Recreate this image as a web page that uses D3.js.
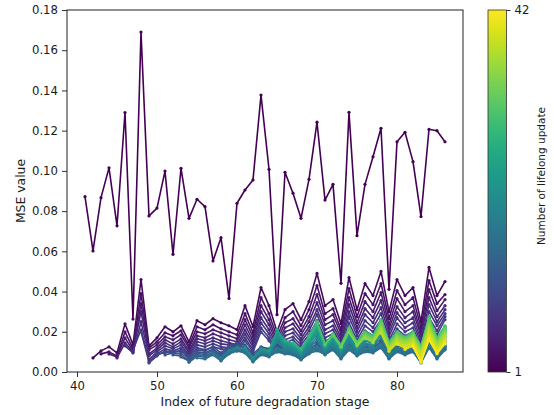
<!DOCTYPE html>
<html>
<head>
<meta charset="utf-8">
<script src="https://cdn.jsdelivr.net/npm/d3@7"></script>
<style>
    body { margin: 0; background: #fff; }
    svg text { font-family: "DejaVu Sans", sans-serif; }
</style>
</head>
<body>
<div id="svgCanvas"></div>
<script>
const width = 554, height = 415
const plot = {left: 67, right: 463, top: 10, bottom: 372}
const bar = {left: 488, width: 18.5}
const tickFont = 11.7, labelFont = 12.4, barLabelFont = 10.5
const textColor = "#1a1a1a"

// stage index of every prediction (each update line ends at the last stage)
const stageIndex = [41, 42, 43, 44, 45, 46, 47, 48, 49, 50, 51, 52, 53, 54, 55, 56, 57, 58, 59, 60,
    61, 62, 63, 64, 65, 66, 67, 68, 69, 70, 71, 72, 73, 74, 75, 76, 77, 78, 79, 80, 81, 82, 83, 84, 85, 86]
const xTicks = [40, 50, 60, 70, 80]
const yTicks = [0, 0.02, 0.04, 0.06, 0.08, 0.10, 0.12, 0.14, 0.16, 0.18]
const colorbarTicks = [1, 42]

// MSE of each lifelong update (update k starts at stage 40 + k)
const update1 = [0.0872, 0.0602, 0.0867, 0.1015, 0.0727, 0.1290, 0.0263, 0.1690, 0.0776, 0.0815,
    0.0999, 0.0585, 0.1013, 0.0764, 0.0859, 0.0822, 0.0552, 0.0668, 0.0366, 0.0839,
    0.0905, 0.0955, 0.1377, 0.1008, 0.0285, 0.0993, 0.0889, 0.0764, 0.0958, 0.1242,
    0.0855, 0.0933, 0.0441, 0.1291, 0.0678, 0.0933, 0.1070, 0.1212, 0.0411, 0.1145,
    0.1192, 0.1046, 0.0773, 0.1207, 0.1200, 0.1145]
const update2 = [0.0070, 0.0105, 0.0125, 0.0095, 0.0240, 0.0135, 0.0460, 0.0130,
    0.0170, 0.0225, 0.0200, 0.0230, 0.0150, 0.0255, 0.0235, 0.0265, 0.0245, 0.0230,
    0.0210, 0.0330, 0.0225, 0.0420, 0.0330, 0.0200, 0.0310, 0.0340, 0.0260, 0.0350,
    0.0490, 0.0330, 0.0360, 0.0240, 0.0470, 0.0310, 0.0440, 0.0380, 0.0500, 0.0300,
    0.0460, 0.0380, 0.0420, 0.0250, 0.0520, 0.0380, 0.0450]
const update3 = [0.0090, 0.0100, 0.0080, 0.0200, 0.0115, 0.0390, 0.0120,
    0.0150, 0.0195, 0.0180, 0.0205, 0.0130, 0.0225, 0.0210, 0.0235, 0.0215, 0.0200,
    0.0185, 0.0290, 0.0195, 0.0370, 0.0290, 0.0175, 0.0270, 0.0300, 0.0230, 0.0310,
    0.0430, 0.0290, 0.0315, 0.0210, 0.0415, 0.0275, 0.0390, 0.0335, 0.0440, 0.0265,
    0.0405, 0.0335, 0.0370, 0.0220, 0.0455, 0.0340, 0.0385]
const update4 = [0.0090, 0.0075, 0.0170, 0.0105, 0.0340, 0.0110,
    0.0135, 0.0175, 0.0160, 0.0185, 0.0120, 0.0200, 0.0190, 0.0210, 0.0195, 0.0180,
    0.0165, 0.0260, 0.0175, 0.0330, 0.0260, 0.0155, 0.0245, 0.0265, 0.0205, 0.0275,
    0.0385, 0.0260, 0.0285, 0.0190, 0.0370, 0.0245, 0.0350, 0.0300, 0.0395, 0.0235,
    0.0365, 0.0300, 0.0330, 0.0195, 0.0410, 0.0305, 0.0360]
const update5 = [0.0070, 0.0145, 0.0100, 0.0300, 0.0090,
    0.0120, 0.0160, 0.0140, 0.0165, 0.0105, 0.0180, 0.0170, 0.0190, 0.0175, 0.0160,
    0.0150, 0.0235, 0.0155, 0.0300, 0.0235, 0.0140, 0.0220, 0.0240, 0.0185, 0.0250,
    0.0345, 0.0235, 0.0255, 0.0170, 0.0335, 0.0220, 0.0315, 0.0270, 0.0355, 0.0215,
    0.0325, 0.0270, 0.0300, 0.0180, 0.0370, 0.0275, 0.0330]
const update6 = [0.0130, 0.0095, 0.0250, 0.0080,
    0.0110, 0.0145, 0.0125, 0.0150, 0.0095, 0.0165, 0.0155, 0.0170, 0.0155, 0.0145,
    0.0135, 0.0210, 0.0140, 0.0270, 0.0210, 0.0130, 0.0200, 0.0215, 0.0165, 0.0225,
    0.0310, 0.0210, 0.0230, 0.0155, 0.0300, 0.0200, 0.0285, 0.0245, 0.0320, 0.0195,
    0.0295, 0.0245, 0.0270, 0.0160, 0.0335, 0.0250, 0.0310]
const update7 = [0.0110, 0.0210, 0.0060,
    0.0100, 0.0130, 0.0115, 0.0135, 0.0085, 0.0150, 0.0140, 0.0155, 0.0140, 0.0135,
    0.0125, 0.0190, 0.0125, 0.0245, 0.0190, 0.0120, 0.0180, 0.0195, 0.0150, 0.0205,
    0.0285, 0.0190, 0.0210, 0.0140, 0.0275, 0.0180, 0.0255, 0.0220, 0.0290, 0.0175,
    0.0270, 0.0220, 0.0245, 0.0145, 0.0300, 0.0230, 0.0290]
const update8 = [0.0200, 0.0050,
    0.0090, 0.0115, 0.0105, 0.0120, 0.0080, 0.0135, 0.0125, 0.0140, 0.0125, 0.0120,
    0.0115, 0.0170, 0.0110, 0.0220, 0.0170, 0.0110, 0.0160, 0.0175, 0.0135, 0.0185,
    0.0255, 0.0170, 0.0190, 0.0125, 0.0245, 0.0160, 0.0230, 0.0200, 0.0260, 0.0155,
    0.0240, 0.0200, 0.0220, 0.0130, 0.0270, 0.0205, 0.0275]
const update9 = [0.0045,
    0.0080, 0.0105, 0.0095, 0.0110, 0.0070, 0.0120, 0.0110, 0.0125, 0.0115, 0.0110,
    0.0105, 0.0155, 0.0100, 0.0200, 0.0155, 0.0100, 0.0145, 0.0160, 0.0120, 0.0165,
    0.0230, 0.0155, 0.0170, 0.0115, 0.0220, 0.0145, 0.0205, 0.0180, 0.0235, 0.0140,
    0.0215, 0.0180, 0.0200, 0.0120, 0.0245, 0.0185, 0.0260]
const update10 = [0.0090, 0.0095, 0.0105, 0.0100, 0.0080, 0.0110, 0.0105, 0.0125, 0.0095, 0.0130,
    0.0145, 0.0135, 0.0090, 0.0125, 0.0115, 0.0140, 0.0130, 0.0125, 0.0100, 0.0130,
    0.0150, 0.0125, 0.0150, 0.0105, 0.0150, 0.0120, 0.0140, 0.0135, 0.0160, 0.0105,
    0.0140, 0.0125, 0.0140, 0.0085, 0.0160, 0.0105, 0.0150]
const update11 = [0.0085, 0.0095, 0.0090, 0.0070, 0.0100, 0.0095, 0.0115, 0.0085, 0.0120,
    0.0135, 0.0125, 0.0080, 0.0115, 0.0105, 0.0130, 0.0120, 0.0115, 0.0090, 0.0120,
    0.0140, 0.0115, 0.0140, 0.0095, 0.0140, 0.0110, 0.0130, 0.0125, 0.0150, 0.0095,
    0.0130, 0.0115, 0.0130, 0.0075, 0.0150, 0.0095, 0.0140]
const update12 = [0.0085, 0.0080, 0.0062, 0.0092, 0.0088, 0.0108, 0.0078, 0.0112,
    0.0127, 0.0118, 0.0072, 0.0108, 0.0097, 0.0122, 0.0112, 0.0108, 0.0082, 0.0112,
    0.0132, 0.0108, 0.0132, 0.0088, 0.0132, 0.0102, 0.0122, 0.0118, 0.0142, 0.0088,
    0.0122, 0.0108, 0.0122, 0.0068, 0.0142, 0.0088, 0.0132]
const update13 = [0.0075, 0.0055, 0.0085, 0.0080, 0.0100, 0.0070, 0.0105,
    0.0120, 0.0110, 0.0065, 0.0100, 0.0090, 0.0115, 0.0105, 0.0100, 0.0075, 0.0105,
    0.0125, 0.0100, 0.0125, 0.0080, 0.0125, 0.0095, 0.0115, 0.0110, 0.0135, 0.0080,
    0.0115, 0.0100, 0.0115, 0.0060, 0.0135, 0.0080, 0.0125]
const update14 = [0.0048, 0.0078, 0.0073, 0.0093, 0.0063, 0.0098,
    0.0113, 0.0103, 0.0058, 0.0093, 0.0083, 0.0108, 0.0098, 0.0093, 0.0068, 0.0098,
    0.0118, 0.0093, 0.0118, 0.0073, 0.0118, 0.0088, 0.0108, 0.0103, 0.0128, 0.0073,
    0.0108, 0.0093, 0.0108, 0.0053, 0.0128, 0.0073, 0.0118]
const update15 = [0.0070, 0.0065, 0.0085, 0.0055, 0.0090,
    0.0105, 0.0095, 0.0050, 0.0085, 0.0075, 0.0100, 0.0090, 0.0085, 0.0060, 0.0090,
    0.0110, 0.0085, 0.0110, 0.0065, 0.0110, 0.0080, 0.0100, 0.0095, 0.0120, 0.0065,
    0.0100, 0.0085, 0.0100, 0.0045, 0.0120, 0.0065, 0.0110]
const update16 = [0.0068, 0.0088, 0.0058, 0.0093,
    0.0108, 0.0098, 0.0053, 0.0088, 0.0078, 0.0103, 0.0093, 0.0088, 0.0063, 0.0093,
    0.0105, 0.0088, 0.0113, 0.0068, 0.0113, 0.0083, 0.0103, 0.0098, 0.0123, 0.0068,
    0.0103, 0.0088, 0.0103, 0.0048, 0.0123, 0.0068, 0.0113]
const update17 = [0.0097, 0.0067, 0.0102,
    0.0117, 0.0107, 0.0062, 0.0097, 0.0087, 0.0112, 0.0102, 0.0097, 0.0072, 0.0102,
    0.0122, 0.0097, 0.0122, 0.0077, 0.0115, 0.0092, 0.0112, 0.0107, 0.0132, 0.0077,
    0.0112, 0.0097, 0.0112, 0.0057, 0.0132, 0.0077, 0.0122]
const update18 = [0.0073, 0.0108,
    0.0123, 0.0113, 0.0068, 0.0103, 0.0093, 0.0118, 0.0108, 0.0103, 0.0078, 0.0108,
    0.0128, 0.0103, 0.0128, 0.0083, 0.0128, 0.0098, 0.0118, 0.0113, 0.0138, 0.0083,
    0.0118, 0.0103, 0.0118, 0.0063, 0.0138, 0.0083, 0.0128]
const update19 = [0.0104,
    0.0117, 0.0112, 0.0062, 0.0101, 0.0091, 0.0149, 0.0118, 0.0108, 0.0081, 0.0121,
    0.0159, 0.0104, 0.0138, 0.0090, 0.0149, 0.0105, 0.0135, 0.0125, 0.0169, 0.0095,
    0.0135, 0.0117, 0.0135, 0.0075, 0.0174, 0.0102, 0.0152]
const update20 = [0.0121, 0.0118, 0.0066, 0.0105, 0.0095, 0.0163, 0.0126, 0.0114, 0.0087, 0.0130,
    0.0173, 0.0110, 0.0146, 0.0097, 0.0160, 0.0112, 0.0145, 0.0133, 0.0183, 0.0103,
    0.0145, 0.0125, 0.0145, 0.0083, 0.0190, 0.0112, 0.0164]
const update21 = [0.0123, 0.0069, 0.0110, 0.0100, 0.0177, 0.0134, 0.0121, 0.0093, 0.0140,
    0.0187, 0.0115, 0.0154, 0.0104, 0.0170, 0.0119, 0.0155, 0.0142, 0.0197, 0.0112,
    0.0155, 0.0135, 0.0155, 0.0092, 0.0205, 0.0123, 0.0176]
const update22 = [0.0072, 0.0113, 0.0103, 0.0187, 0.0140, 0.0125, 0.0097, 0.0146,
    0.0197, 0.0119, 0.0160, 0.0108, 0.0178, 0.0123, 0.0162, 0.0148, 0.0207, 0.0118,
    0.0162, 0.0141, 0.0162, 0.0098, 0.0216, 0.0130, 0.0184]
const update23 = [0.0117, 0.0107, 0.0198, 0.0146, 0.0131, 0.0102, 0.0153,
    0.0208, 0.0124, 0.0166, 0.0114, 0.0187, 0.0129, 0.0170, 0.0155, 0.0218, 0.0125,
    0.0170, 0.0148, 0.0170, 0.0105, 0.0229, 0.0139, 0.0194]
const update24 = [0.0109, 0.0205, 0.0150, 0.0134, 0.0105, 0.0158,
    0.0215, 0.0126, 0.0170, 0.0118, 0.0193, 0.0133, 0.0175, 0.0159, 0.0225, 0.0129,
    0.0175, 0.0153, 0.0175, 0.0109, 0.0236, 0.0144, 0.0200]
const update25 = [0.0212, 0.0154, 0.0137, 0.0108, 0.0162,
    0.0222, 0.0129, 0.0174, 0.0121, 0.0198, 0.0136, 0.0180, 0.0163, 0.0232, 0.0133,
    0.0180, 0.0157, 0.0180, 0.0113, 0.0244, 0.0149, 0.0206]
const update26 = [0.0158, 0.0140, 0.0111, 0.0167,
    0.0229, 0.0132, 0.0178, 0.0125, 0.0204, 0.0140, 0.0185, 0.0167, 0.0239, 0.0137,
    0.0185, 0.0162, 0.0185, 0.0117, 0.0252, 0.0154, 0.0212]
const update27 = [0.0144, 0.0114, 0.0171,
    0.0236, 0.0135, 0.0182, 0.0128, 0.0209, 0.0143, 0.0190, 0.0172, 0.0246, 0.0142,
    0.0190, 0.0166, 0.0190, 0.0122, 0.0260, 0.0160, 0.0218]
const update28 = [0.0117, 0.0176,
    0.0243, 0.0137, 0.0186, 0.0132, 0.0215, 0.0147, 0.0195, 0.0176, 0.0253, 0.0146,
    0.0195, 0.0171, 0.0195, 0.0126, 0.0267, 0.0165, 0.0224]
const update29 = [0.0180,
    0.0250, 0.0140, 0.0190, 0.0135, 0.0220, 0.0150, 0.0200, 0.0180, 0.0260, 0.0150,
    0.0200, 0.0175, 0.0200, 0.0130, 0.0275, 0.0170, 0.0230]
const update30 = [0.0246, 0.0138, 0.0188, 0.0133, 0.0217, 0.0148, 0.0197, 0.0177, 0.0256, 0.0147,
    0.0197, 0.0172, 0.0197, 0.0127, 0.0270, 0.0167, 0.0226]
const update31 = [0.0136, 0.0184, 0.0129, 0.0211, 0.0144, 0.0192, 0.0173, 0.0249, 0.0143,
    0.0192, 0.0168, 0.0192, 0.0123, 0.0263, 0.0162, 0.0220]
const update32 = [0.0180, 0.0127, 0.0207, 0.0142, 0.0188, 0.0170, 0.0243, 0.0140,
    0.0188, 0.0164, 0.0188, 0.0120, 0.0256, 0.0157, 0.0216]
const update33 = [0.0123, 0.0201, 0.0138, 0.0183, 0.0166, 0.0236, 0.0136,
    0.0183, 0.0160, 0.0183, 0.0116, 0.0249, 0.0152, 0.0210]
const update34 = [0.0196, 0.0135, 0.0178, 0.0161, 0.0229, 0.0131,
    0.0178, 0.0155, 0.0178, 0.0111, 0.0241, 0.0147, 0.0204]
const update35 = [0.0130, 0.0172, 0.0156, 0.0221, 0.0126,
    0.0172, 0.0150, 0.0172, 0.0106, 0.0232, 0.0141, 0.0196]
const update36 = [0.0166, 0.0151, 0.0212, 0.0121,
    0.0166, 0.0144, 0.0166, 0.0101, 0.0222, 0.0134, 0.0189]
const update37 = [0.0146, 0.0204, 0.0116,
    0.0160, 0.0139, 0.0160, 0.0096, 0.0213, 0.0128, 0.0182]
const update38 = [0.0193, 0.0109,
    0.0152, 0.0132, 0.0152, 0.0089, 0.0201, 0.0120, 0.0172]
const update39 = [0.0103,
    0.0145, 0.0125, 0.0145, 0.0080, 0.0190, 0.0112, 0.0164]
const update40 = [0.0138, 0.0119, 0.0138, 0.0062, 0.0179, 0.0105, 0.0156]
const update41 = [0.0112, 0.0130, 0.0055, 0.0167, 0.0097, 0.0146]
const update42 = [0.0125, 0.0048, 0.0159, 0.0091, 0.0140]

const updateSeries = [update1, update2, update3, update4, update5, update6, update7, update8,
    update9, update10, update11, update12, update13, update14, update15, update16, update17,
    update18, update19, update20, update21, update22, update23, update24, update25, update26,
    update27, update28, update29, update30, update31, update32, update33, update34, update35,
    update36, update37, update38, update39, update40, update41, update42]

const xScale = d3.scaleLinear().domain([38.75, 88.25]).range([plot.left, plot.right])
const yScale = d3.scaleLinear().domain([0, 0.18]).range([plot.bottom, plot.top])
const barScale = d3.scaleLinear().domain([1, 42]).range([plot.bottom, plot.top])
const color = k => d3.interpolateViridis((k - 1) / 41)

const svg = d3.select("#svgCanvas")
    .append("svg")
    .attr("width", width)
    .attr("height", height)

function styleAxis(g) {
    g.attr("font-size", tickFont)
        .attr("font-family", '"DejaVu Sans", sans-serif')
        .style("color", textColor)
    g.selectAll(".domain").remove()
    g.selectAll(".tick line").attr("stroke-width", 0.9)
}

// x-axis
svg.append("g")
    .attr("transform", "translate(0," + plot.bottom + ")")
    .call(d3.axisBottom(xScale).tickValues(xTicks).tickSize(5).tickPadding(5))
    .call(styleAxis)

// y-axis
svg.append("g")
    .attr("transform", "translate(" + plot.left + ",0)")
    .call(d3.axisLeft(yScale).tickValues(yTicks).tickFormat(d3.format(".2f")).tickSize(5).tickPadding(4))
    .call(styleAxis)

// lines, oldest update first so the latest ones sit on top
const line = d3.line()
    .x(d => xScale(d.stage))
    .y(d => yScale(d.mse))

updateSeries.forEach((values, i) => {
    const stages = stageIndex.slice(stageIndex.length - values.length)
    const pts = values.map((v, j) => ({stage: stages[j], mse: v}))
    const g = svg.append("g").attr("class", "update")
    g.append("path")
        .datum(pts)
        .attr("fill", "none")
        .attr("stroke", color(i + 1))
        .attr("stroke-width", 1.6)
        .attr("stroke-linejoin", "round")
        .attr("d", line)
    g.selectAll("circle")
        .data(pts)
        .enter().append("circle")
        .attr("cx", d => xScale(d.stage))
        .attr("cy", d => yScale(d.mse))
        .attr("r", 1.6)
        .attr("fill", color(i + 1))
})

// axes frame
svg.append("rect")
    .attr("x", plot.left)
    .attr("y", plot.top)
    .attr("width", plot.right - plot.left)
    .attr("height", plot.bottom - plot.top)
    .attr("fill", "none")
    .attr("stroke", "#222")
    .attr("stroke-width", 1)

// axis labels
svg.append("text")
    .attr("x", (plot.left + plot.right) / 2)
    .attr("y", 406)
    .attr("text-anchor", "middle")
    .attr("font-size", labelFont)
    .attr("fill", textColor)
    .text("Index of future degradation stage")

svg.append("text")
    .attr("transform", "translate(20," + (plot.top + plot.bottom) / 2 + ") rotate(-90)")
    .attr("text-anchor", "middle")
    .attr("dominant-baseline", "central")
    .attr("font-size", labelFont)
    .attr("fill", textColor)
    .text("MSE value")

// colorbar
const grad = svg.append("defs").append("linearGradient")
    .attr("id", "viridisGrad")
    .attr("x1", "0").attr("y1", "1").attr("x2", "0").attr("y2", "0")
d3.range(0, 1.0001, 0.05).forEach(t => {
    grad.append("stop")
        .attr("offset", t)
        .attr("stop-color", d3.interpolateViridis(t))
})

svg.append("rect")
    .attr("x", bar.left)
    .attr("y", plot.top)
    .attr("width", bar.width)
    .attr("height", plot.bottom - plot.top)
    .attr("fill", "url(#viridisGrad)")
    .attr("stroke", "#333")
    .attr("stroke-width", 0.8)

svg.append("g")
    .attr("transform", "translate(" + (bar.left + bar.width) + ",0)")
    .call(d3.axisRight(barScale).tickValues(colorbarTicks).tickFormat(d3.format("d")).tickSize(4).tickPadding(4))
    .call(styleAxis)

svg.append("text")
    .attr("transform", "translate(541,176) rotate(-90)")
    .attr("text-anchor", "middle")
    .attr("dominant-baseline", "central")
    .attr("font-size", barLabelFont)
    .attr("fill", textColor)
    .text("Number of lifelong update")
</script>
</body>
</html>
